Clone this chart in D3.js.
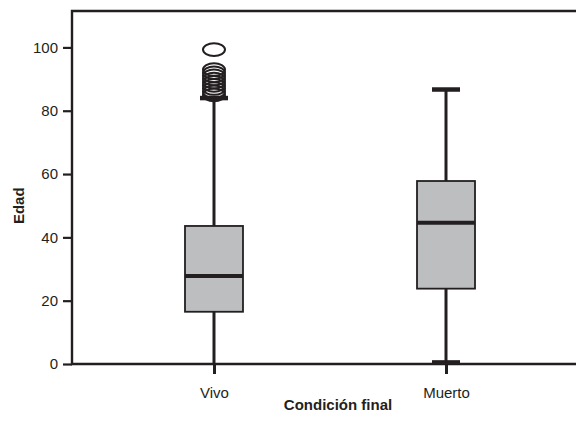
<!DOCTYPE html>
<html>
<head>
<meta charset="utf-8">
<script src="https://cdn.jsdelivr.net/npm/d3@7"></script>
<style>
  body { margin: 0; background: #fff; }
  text { font-family: "Liberation Sans", Arial, sans-serif; fill: #231f20; }
</style>
</head>
<body>
<div id="chart"></div>
<script>
// condiciones y resumen de cinco números (edad)
const groups = ['Vivo', 'Muerto']
const whiskerLow = [0, 0.5]
const q1 = [16.5, 23.8]
const median = [27.8, 44.6]
const q3 = [43.6, 57.8]
const whiskerHigh = [84, 86.7]
const outliers = [[85, 86, 87, 88, 89, 90, 91, 92, 93, 99.3], []]
const yTicks = [0, 20, 40, 60, 80, 100]

const width = 576
const height = 421
const padding = { top: 11, right: -12, bottom: 57, left: 72 }
const ink = '#231f20'

const svg = d3.select('#chart').append('svg')
  .attr('width', width).attr('height', height)

const xScale = d3.scalePoint()
  .domain(groups)
  .range([padding.left, width - padding.right])
  .padding(0.612)

const yScale = d3.scaleLinear()
  .domain([0, 111.5])
  .range([height - padding.bottom, padding.top])

// eje y
svg.append('g')
  .attr('transform', 'translate(' + padding.left + ',0)')
  .call(d3.axisLeft(yScale).tickValues(yTicks).tickSize(9).tickPadding(5))
  .call(g => g.select('.domain').remove())
  .call(g => g.selectAll('line').attr('stroke', ink).attr('stroke-width', 2.2))
  .call(g => g.selectAll('text').style('font-size', '15px').attr('fill', ink))

// eje x
svg.append('g')
  .attr('transform', 'translate(0,' + (height - padding.bottom) + ')')
  .call(d3.axisBottom(xScale).tickSize(10).tickPadding(13))
  .call(g => g.select('.domain').remove())
  .call(g => g.selectAll('line').attr('stroke', ink).attr('stroke-width', 3))
  .call(g => g.selectAll('text').style('font-size', '15px').attr('fill', ink))

// marco
svg.append('path')
  .attr('fill', 'none')
  .attr('stroke', ink)
  .attr('stroke-width', 2.4)
  .attr('d', 'M' + width + ',' + yScale(111.5) + 'H' + padding.left +
    'V' + yScale(0) + 'H' + width)

const boxW = 58
const capW = 28

const boxes = svg.append('g')
groups.forEach(function(g, i) {
  const cx = xScale(g)
  // bigotes
  boxes.append('line')
    .attr('x1', cx).attr('x2', cx)
    .attr('y1', yScale(whiskerLow[i])).attr('y2', yScale(whiskerHigh[i]))
    .attr('stroke', ink).attr('stroke-width', 3)
  boxes.append('line')
    .attr('x1', cx - capW / 2).attr('x2', cx + capW / 2)
    .attr('y1', yScale(whiskerHigh[i])).attr('y2', yScale(whiskerHigh[i]))
    .attr('stroke', ink).attr('stroke-width', 4.5)
  if (i === 1) {
    boxes.append('line')
      .attr('x1', cx - capW / 2).attr('x2', cx + capW / 2)
      .attr('y1', yScale(whiskerLow[i])).attr('y2', yScale(whiskerLow[i]))
      .attr('stroke', ink).attr('stroke-width', 4.5)
  }
  // caja
  boxes.append('rect')
    .attr('x', cx - boxW / 2)
    .attr('y', yScale(q3[i]))
    .attr('width', boxW)
    .attr('height', yScale(q1[i]) - yScale(q3[i]))
    .attr('fill', '#bcbec0')
    .attr('stroke', ink).attr('stroke-width', 1.8)
  boxes.append('line')
    .attr('x1', cx - boxW / 2).attr('x2', cx + boxW / 2)
    .attr('y1', yScale(median[i])).attr('y2', yScale(median[i]))
    .attr('stroke', ink).attr('stroke-width', 4)
  // atípicos
  boxes.selectAll(null)
    .data(outliers[i])
    .enter()
    .append('ellipse')
    .attr('cx', cx)
    .attr('cy', function(d) { return yScale(d) })
    .attr('rx', 11)
    .attr('ry', 6.3)
    .attr('fill', 'none')
    .attr('stroke', ink)
    .attr('stroke-width', 2)
})

// títulos
svg.append('text')
  .attr('x', (padding.left + 604) / 2)
  .attr('y', 410)
  .attr('text-anchor', 'middle')
  .style('font-size', '15px')
  .style('font-weight', 'bold')
  .text('Condición final')

svg.append('text')
  .attr('transform', 'translate(24,' + yScale(50) + ') rotate(-90)')
  .attr('text-anchor', 'middle')
  .style('font-size', '15px')
  .style('font-weight', 'bold')
  .text('Edad')
</script>
</body>
</html>
